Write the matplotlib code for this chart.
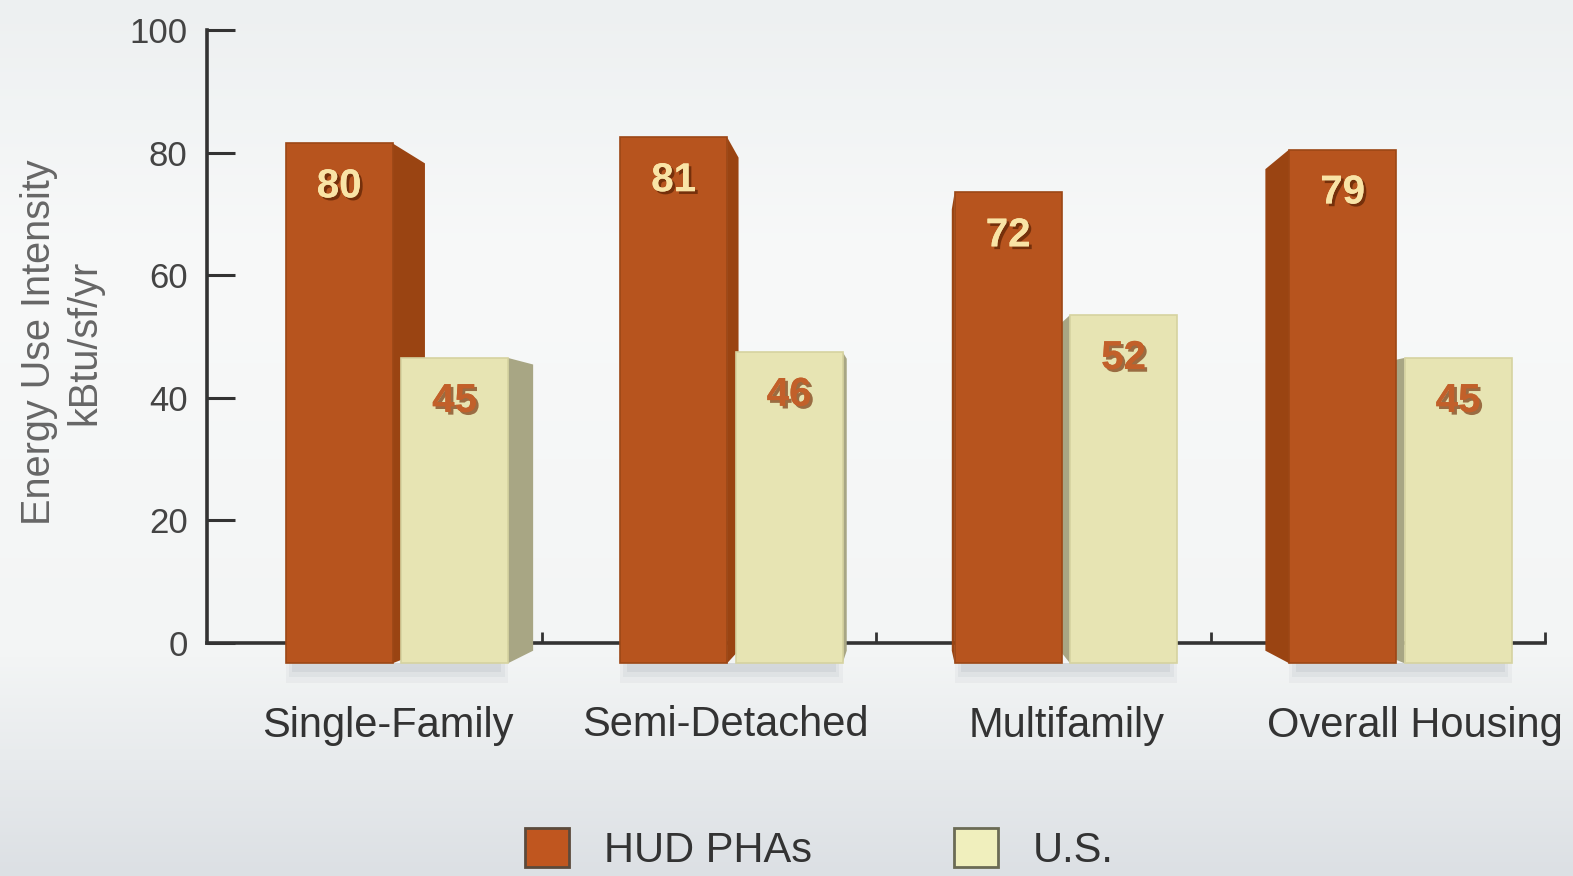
import numpy as np
import matplotlib.pyplot as plt
from matplotlib.patches import Patch, Polygon, Rectangle
from matplotlib.colors import LinearSegmentedColormap
import matplotlib.patheffects as pe

plt.rcParams['font.family'] = ['Liberation Sans', 'DejaVu Sans']

categories = ["Single-Family", "Semi-Detached", "Multifamily", "Overall Housing"]
series = ["HUD PHAs", "U.S."]
hud = [80, 81, 72, 79]
us = [45, 46, 52, 45]
yticks = [0, 20, 40, 60, 80, 100]

front_col = ["#b7541e", "#e7e4b3"]
side_col = ["#9a4412", "#a8a684"]
edge_col = ["#9c4716", "#d6d3a0"]
text_col = ["#f9e4a6", "#c2602a"]
shadow_col = ["#5a2204", "#7a3a12"]

# fake 3d: homothety toward a vanishing point (data coords)
vx, vy, depth = 1.6, 29.4, 0.0625
base, lift = -3.3, 1.5
offs = [(-0.265, 0.055), (0.08, 0.40)]

fig = plt.figure(figsize=(15.73, 8.76), dpi=100)

bg = fig.add_axes([0, 0, 1, 1], zorder=-10)
cmap = LinearSegmentedColormap.from_list("bg", [(0, "#edf0f1"), (0.3, "#f8f9f9"),
                                                (0.75, "#f3f5f5"), (1, "#dce0e4")])
bg.imshow(np.linspace(0, 1, 256)[:, None], cmap=cmap, aspect="auto", extent=[0, 1, 0, 1])
bg.axis("off")

ax = fig.add_axes([207 / 1573, 1 - 643 / 876, (1545 - 207) / 1573, (643 - 30) / 876])
ax.patch.set_alpha(0)
ax.set_xlim(-0.5, 3.5)
ax.set_ylim(0, 100)

x = np.arange(len(categories))
for k, vals in enumerate([hud, us]):
    l, r = offs[k]
    for i, v in enumerate(vals):
        x0, x1 = x[i] + l, x[i] + r
        top = v + lift
        # side face toward the vanishing point
        ex = x1 if x1 < vx else x0
        bx = ex + (vx - ex) * depth
        tb = top + (vy - top) * depth
        bb = base + (vy - base) * depth
        ax.add_patch(Polygon([(ex, top), (bx, tb), (bx, bb), (ex, base)], closed=True,
                             facecolor=side_col[k], edgecolor="none", zorder=3, clip_on=False))
    ax.bar(x + (l + r) / 2, [v + lift - base for v in vals], width=r - l, bottom=base,
           color=front_col[k], edgecolor=edge_col[k], linewidth=1.2, zorder=4, clip_on=False)
    for i, v in enumerate(vals):
        ax.text(x[i] + (l + r) / 2, v + lift - 7, str(v), ha="center", va="center",
                fontsize=29, fontweight="bold", color=text_col[k], zorder=6,
                path_effects=[pe.withSimplePatchShadow(offset=(2, -2), shadow_rgbFace=shadow_col[k], alpha=0.7),
                              pe.Normal()])

# soft shadow below each group
for i in x:
    for j, a in enumerate([0.06, 0.08, 0.1]):
        ax.add_patch(Rectangle((i + offs[0][0] + 0.01 * j, base - 3.2 + j * 0.9),
                               offs[1][1] - offs[0][0] - 0.02 * j, 3.2 - j * 0.9,
                               facecolor="#6f7a88", alpha=a, edgecolor="none", zorder=2, clip_on=False))

for s in ["top", "right"]:
    ax.spines[s].set_visible(False)
for s in ["left", "bottom"]:
    ax.spines[s].set_color("#333333")
    ax.spines[s].set_linewidth(2.6)
    ax.spines[s].set_zorder(2.5)

ax.set_yticks(yticks)
ax.tick_params(axis="y", direction="in", length=20, width=2.2, color="#333333",
               labelsize=25, labelcolor="#444444", pad=14)
ax.set_xticks(np.arange(0.5, 4, 1))
ax.set_xticklabels([])
ax.tick_params(axis="x", which="major", direction="in", length=8, width=2, color="#333333")
ax.set_xticks(x + [0.04, 0.05, 0.07, 0.11], minor=True)
ax.set_xticklabels(categories, minor=True)
ax.tick_params(axis="x", which="minor", length=0, pad=45, labelsize=30, labelcolor="#333333")

fig.text(62 / 1573, 1 - 342 / 876, "Energy Use Intensity\nkBtu/sf/yr", rotation=90,
         ha="center", va="center", multialignment="center", fontsize=28.5,
         color="#666666", linespacing=1.25)

handles = [Patch(facecolor="#c0561f", edgecolor="#5b4a3c", linewidth=2, label=series[0]),
           Patch(facecolor="#f0efbd", edgecolor="#6b6b55", linewidth=2, label=series[1])]
fig.legend(handles=handles, loc="center", bbox_to_anchor=(0.521, 0.03), ncol=2,
           frameon=False, fontsize=30, handlelength=1.05, handleheight=1.05,
           handletextpad=0.85, columnspacing=3.4, labelcolor="#333333")

fig.savefig("out.png", dpi=100)
